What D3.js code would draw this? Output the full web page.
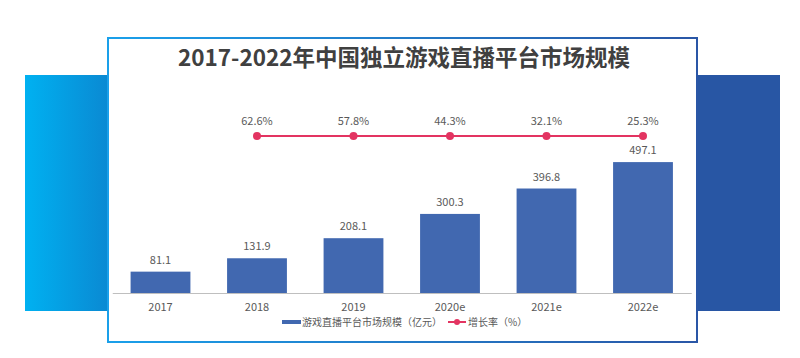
<!DOCTYPE html>
<html><head><meta charset="utf-8">
<script src="https://cdn.jsdelivr.net/npm/d3@7"></script>
<style>html,body{margin:0;padding:0;background:#fff;}svg{display:block;}</style>
</head><body>
<script>
const categories = ["2017","2018","2019","2020e","2021e","2022e"];
const marketSize = [81.1,131.9,208.1,300.3,396.8,497.1];
const growthCats = ["2018","2019","2020e","2021e","2022e"];
const growthRate = [62.6,57.8,44.3,32.1,25.3];
const title = "2017-2022年中国独立游戏直播平台市场规模";
const legendBar = "游戏直播平台市场规模（亿元）";
const legendLine = "增长率（%）";

const W = 800, H = 358;
const font = "'Noto Sans CJK SC','Noto Sans',sans-serif";
const svg = d3.select("body").append("svg").attr("width", W).attr("height", H);
const defs = svg.append("defs");
const lg = defs.append("linearGradient").attr("id","lp").attr("x1","0").attr("x2","1").attr("y1","0").attr("y2","0");
lg.append("stop").attr("offset","0").attr("stop-color","#00b1f1");
lg.append("stop").attr("offset","1").attr("stop-color","#0b86d0");
const bg = defs.append("linearGradient").attr("id","bd").attr("x1","0").attr("x2","1").attr("y1","0").attr("y2","0");
bg.append("stop").attr("offset","0").attr("stop-color","#1aa0ea");
bg.append("stop").attr("offset","1").attr("stop-color","#2a56a6");

// side panels
svg.append("rect").attr("x",25).attr("y",75).attr("width",90).attr("height",236).attr("fill","url(#lp)");
svg.append("rect").attr("x",690).attr("y",75).attr("width",90).attr("height",236).attr("fill","#2856a4");
// card
svg.append("rect").attr("x",108).attr("y",38).attr("width",589).attr("height",304)
  .attr("fill","#fff").attr("stroke","url(#bd)").attr("stroke-width",2);

svg.append("text").attr("x",404).attr("y",66).attr("text-anchor","middle")
  .attr("font-family",font).attr("font-weight","bold").attr("font-size",22.5)
  .attr("fill","#404040").text(title);

const x = d3.scaleBand().domain(categories).range([112.25,691.25]).paddingInner(0.38).paddingOuter(0.19);
const y = d3.scaleLinear().domain([0,600]).range([293,135]);
const yLine = d3.scalePoint().domain(["增长率"]).range([136,136]);

// bars
svg.append("g").selectAll("rect").data(categories).join("rect")
  .attr("x", d => x(d)).attr("width", x.bandwidth())
  .attr("y", (d,i) => y(marketSize[i])).attr("height", (d,i) => y(0) - y(marketSize[i]))
  .attr("fill","#4168b0");
svg.append("g").selectAll("text").data(categories).join("text")
  .attr("x", d => x(d) + x.bandwidth()/2).attr("y", (d,i) => y(marketSize[i]) - 8)
  .attr("text-anchor","middle").attr("font-family",font).attr("font-size",11).attr("fill","#595959")
  .text((d,i) => marketSize[i].toFixed(1));

// axis
const ax = svg.append("g").attr("transform",`translate(0,${y(0)})`)
  .call(d3.axisBottom(x).tickSize(0).tickPadding(10));
ax.select(".domain").attr("stroke","#bfbfbf").attr("stroke-width",1);
ax.selectAll("text").attr("font-family",font).attr("font-size",11).attr("fill","#595959");

// line
const cx = d => x(d) + x.bandwidth()/2;
svg.append("path").datum(growthCats)
  .attr("d", d3.line().x(cx).y(() => yLine("增长率")))
  .attr("fill","none").attr("stroke","#e33461").attr("stroke-width",2);
svg.append("g").selectAll("circle").data(growthCats).join("circle")
  .attr("cx", cx).attr("cy", yLine("增长率")).attr("r",4).attr("fill","#e33461");
svg.append("g").selectAll("text").data(growthCats).join("text")
  .attr("x", cx).attr("y", yLine("增长率") - 11)
  .attr("text-anchor","middle").attr("font-family",font).attr("font-size",11).attr("fill","#595959")
  .text((d,i) => growthRate[i].toFixed(1) + "%");

// legend
const lgY = 322;
svg.append("rect").attr("x",282).attr("y",lgY-2).attr("width",19).attr("height",4).attr("fill","#4168b0");
svg.append("text").attr("x",302).attr("y",lgY+3.5).attr("font-family",font).attr("font-size",10).attr("fill","#595959").text(legendBar);
svg.append("line").attr("x1",448).attr("x2",466).attr("y1",lgY).attr("y2",lgY).attr("stroke","#e33461").attr("stroke-width",2);
svg.append("circle").attr("cx",457).attr("cy",lgY).attr("r",3).attr("fill","#e33461");
svg.append("text").attr("x",468).attr("y",lgY+3.5).attr("font-family",font).attr("font-size",10).attr("fill","#595959").text(legendLine);
</script>
</body></html>
